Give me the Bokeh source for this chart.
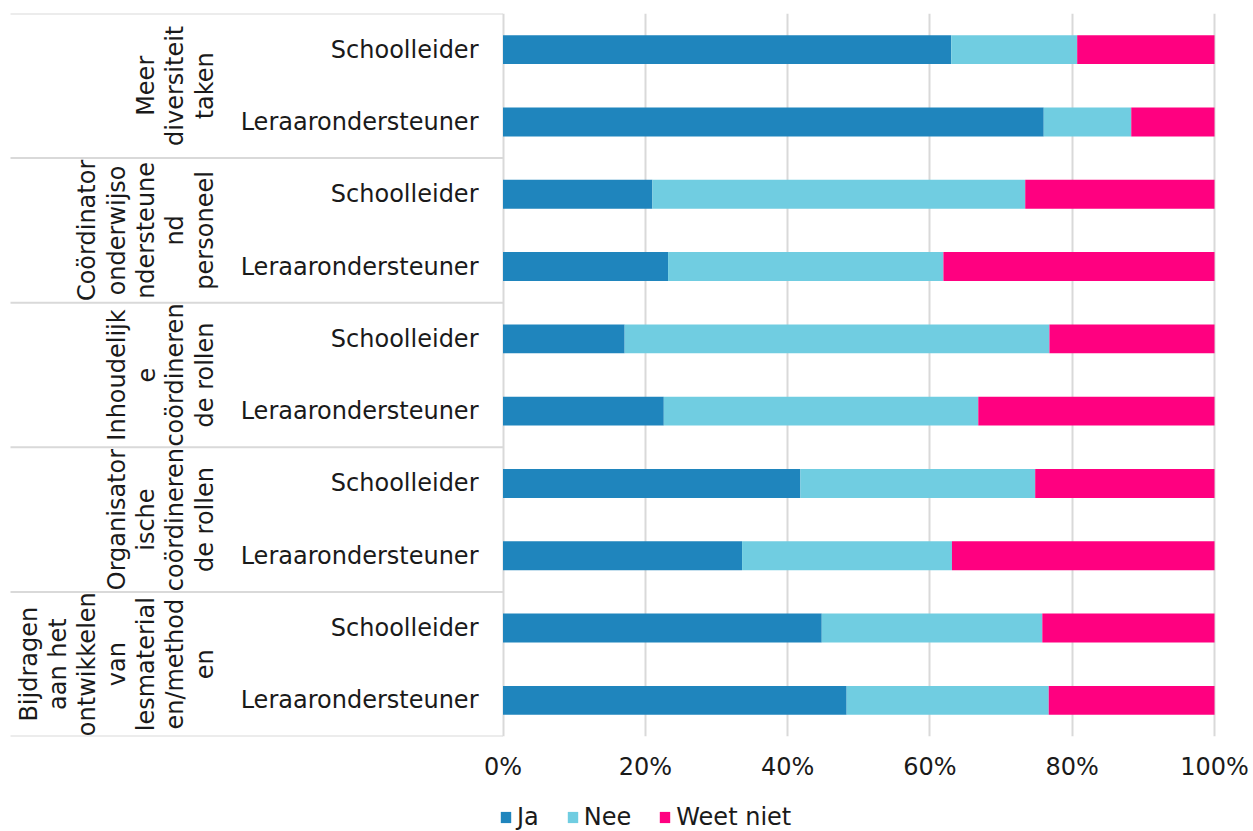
from bokeh.plotting import figure
from bokeh.layouts import column
from bokeh.models import (ColumnDataSource, Range1d, FixedTicker,
                          PrintfTickFormatter, Legend)
from bokeh.embed import file_html
from bokeh.resources import INLINE
from bokeh.core.properties import value

# --- data (top to bottom) -------------------------------------------------
groups = [
    "Meer\ndiversiteit\ntaken",
    "Coördinator\nonderwijso\nndersteune\nnd\npersoneel",
    "Inhoudelijk\ne\ncoördineren\nde rollen",
    "Organisator\nische\ncoördineren\nde rollen",
    "Bijdragen\naan het\nontwikkelen\nvan\nlesmaterial\nen/method\nen",
]
roles = ["Schoolleider", "Leraarondersteuner"]

ja = [63.0, 76.0, 21.0, 23.2, 17.1, 22.6, 41.8, 33.6, 44.8, 48.3]
nee = [17.7, 12.3, 52.4, 38.7, 59.7, 44.2, 33.0, 29.5, 31.0, 28.4]
weet_niet = [19.3, 11.7, 26.6, 38.1, 23.2, 33.2, 25.2, 36.9, 24.2, 23.3]

series = ["Ja", "Nee", "Weet niet"]
colors = ["#1f85bd", "#70cde1", "#ff0080"]
ticks = [0, 20, 40, 60, 80, 100]

# --- layout constants (screen pixels) -------------------------------------
W = 1253
TOP = 13            # frame top
FRAME_H = 723       # frame height
FRAME_W = 1236      # frame width (frame starts at left edge)
BOTTOM = 47         # room for the tick labels
LEG_H = 831 - (TOP + FRAME_H + BOTTOM)
PX0, PX100 = 502.5, 1214.0   # pixel position of 0% and 100%
SCALE = (PX100 - PX0) / 100.0

def px_to_x(px):
    return (px - PX0) / SCALE

n_rows = len(ja)
rows_y = [n_rows - 0.5 - i for i in range(n_rows)]
row_labels = [roles[i % 2] for i in range(n_rows)]

src = ColumnDataSource(dict(y=rows_y, ja=ja, nee=nee, weet=weet_niet))

FONT = "DejaVu Sans"
FS = "24px"
TXT = "#1a1a1a"

p = figure(width=W, height=TOP + FRAME_H + BOTTOM, output_backend="svg",
           toolbar_location=None,
           x_range=Range1d(px_to_x(0), px_to_x(FRAME_W)),
           y_range=Range1d(0, n_rows),
           min_border_left=0, min_border_top=TOP,
           min_border_right=W - FRAME_W, min_border_bottom=BOTTOM)
p.outline_line_color = None
p.background_fill_color = "white"
p.border_fill_color = "white"
p.yaxis.visible = False

# x axis
ax = p.xaxis[0]
ax.ticker = FixedTicker(ticks=ticks)
ax.formatter = PrintfTickFormatter(format="%d%%")
ax.axis_line_color = None
ax.major_tick_line_color = None
ax.minor_tick_line_color = None
ax.major_tick_out = 0
ax.major_tick_in = 0
ax.major_label_standoff = 16
ax.major_label_text_font = FONT
ax.major_label_text_font_size = FS
ax.major_label_text_color = TXT

p.xgrid.ticker = FixedTicker(ticks=ticks)
p.xgrid.grid_line_color = "#d9d9d9"
p.xgrid.grid_line_width = 2
p.ygrid.grid_line_color = None

# stacked bars
p.hbar_stack(["ja", "nee", "weet"], y="y", height=0.40,
             color=colors, line_color=None, source=src)

# group separators (light lines across the label area)
n_groups = len(groups)
sep_y = [2 * g for g in range(n_groups + 1)]
p.segment(x0=[px_to_x(10)] * len(sep_y), x1=[0] * len(sep_y),
          y0=sep_y, y1=sep_y, line_color="#d9d9d9", line_width=2)

# role labels
p.text(x=[px_to_x(478)] * n_rows, y=rows_y, text=row_labels,
       text_align="right", text_baseline="middle",
       text_font=value(FONT), text_font_size=FS, text_color=TXT)

# rotated group labels, one column per wrapped line
gx, gy, gt = [], [], []
LINE_STEP = 29.3 / SCALE
for g, name in enumerate(groups):
    lines = name.split("\n")
    yc = n_rows - (2 * g + 1)
    for k, line in enumerate(lines):
        gx.append(px_to_x(204) - (len(lines) - 1 - k) * LINE_STEP)
        gy.append(yc)
        gt.append(line)
p.text(x=gx, y=gy, text=gt, angle=1.5707963267948966,
       text_align="center", text_baseline="middle",
       text_font=value(FONT), text_font_size=FS, text_color=TXT)

# --- legend strip under the chart -----------------------------------------
leg = figure(width=W, height=LEG_H, output_backend="svg",
             toolbar_location=None, x_range=Range1d(0, 1),
             y_range=Range1d(0, 1), min_border=0)
leg.outline_line_color = None
leg.axis.visible = False
leg.grid.visible = False
# swatch renderers sit outside the visible range; only their legend shows
offscreen = ColumnDataSource(dict(y=[-5.0], right=[-5.0]))
swatches = [leg.hbar(y="y", right="right", height=0.5, color=c,
                     line_color=None, source=offscreen) for c in colors]
legend = Legend(items=[(s, [r]) for s, r in zip(series, swatches)],
                orientation="horizontal", location=(499, 0),
                glyph_width=13, glyph_height=14, label_standoff=5,
                spacing=27, padding=0, margin=0,
                label_text_font=FONT, label_text_font_size=FS,
                label_text_color=TXT, border_line_color=None,
                background_fill_alpha=0)
leg.add_layout(legend, "center")

page = column(p, leg, spacing=0)
open("out.html", "w").write(file_html(page, INLINE))
